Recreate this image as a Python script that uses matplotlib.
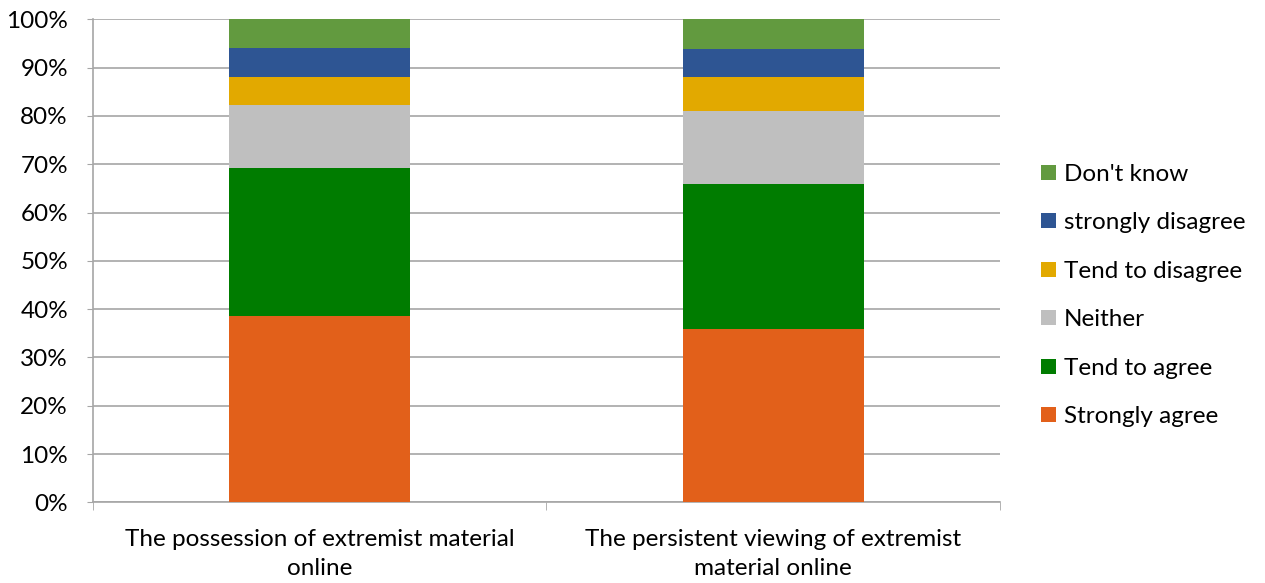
import matplotlib
matplotlib.use("Agg")
import matplotlib.pyplot as plt
import numpy as np

# Data (percent)
categories = ["The possession of extremist material\nonline",
              "The persistent viewing of extremist\nmaterial online"]
series_names = ["Strongly agree", "Tend to agree", "Neither",
                "Tend to disagree", "strongly disagree", "Don't know"]
strongly_agree = [38.5, 35.8]
tend_to_agree = [30.7, 30.1]
neither = [13.0, 15.1]
tend_to_disagree = [5.9, 7.0]
strongly_disagree = [6.0, 5.9]
dont_know = [5.9, 6.1]
colors = ["#E2601A", "#007C00", "#BFBFBF", "#E2A900", "#2E5593", "#629A3F"]

plt.rcParams['font.family'] = ['Lato', 'DejaVu Sans']

fig = plt.figure(figsize=(12.65, 5.83), dpi=100)
ax = fig.add_axes([0.0735, 0.1384, 0.717, 0.8285])

values = [strongly_agree, tend_to_agree, neither,
          tend_to_disagree, strongly_disagree, dont_know]
x = np.arange(len(categories))
bottom = np.zeros(len(categories))
handles = []
for name, vals, col in zip(series_names, values, colors):
    b = ax.bar(x, vals, width=0.4, bottom=bottom, color=col, label=name, zorder=3)
    handles.append(b)
    bottom += np.array(vals)

ax.set_xlim(-0.5, 1.5)
ax.set_ylim(0, 100)
ax.set_yticks(np.arange(0, 101, 10))
ax.set_yticklabels([f"{v}%" for v in range(0, 101, 10)], fontsize=17.5)
ax.yaxis.grid(True, color="#A6A6A6", linewidth=1.2, zorder=0)

ax.set_xticks(x)
ax.set_xticklabels(categories, fontsize=17.5, linespacing=1.5)
ax.set_xticks([-0.5, 0.5, 1.5], minor=True)
ax.tick_params(axis="x", which="major", length=0, pad=19)
ax.tick_params(axis="x", which="minor", length=6, color="#A6A6A6")
ax.tick_params(axis="y", length=4, color="#A6A6A6", pad=14)

for s in ["top", "right"]:
    ax.spines[s].set_visible(False)
for s in ["left", "bottom"]:
    ax.spines[s].set_color("#A6A6A6")
    ax.spines[s].set_linewidth(1.2)

leg = ax.legend(handles[::-1], series_names[::-1], loc="center left",
                bbox_to_anchor=(1.035, 0.428), frameon=False, fontsize=17.5,
                handlelength=0.58, handleheight=0.58, handletextpad=0.35,
                labelspacing=1.13, borderaxespad=0)

fig.savefig("out.png", dpi=100)
